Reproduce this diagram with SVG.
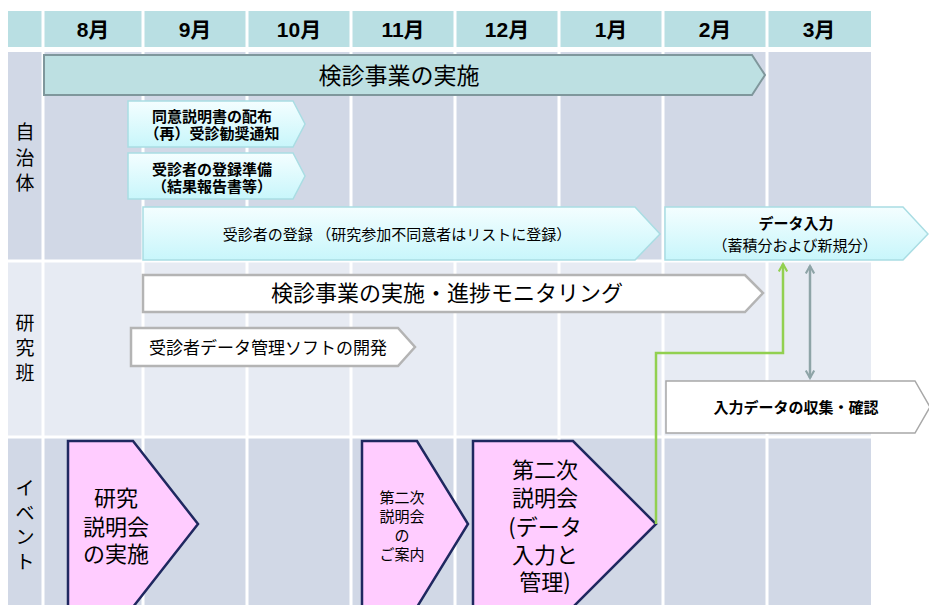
<svg xmlns="http://www.w3.org/2000/svg" width="929" height="605" viewBox="0 0 929 605">
<defs>
<style>
.jp{font-family:"Noto Sans CJK JP","Noto Sans",sans-serif;fill:#000}
.mon{font-family:"Liberation Sans","Noto Sans CJK JP",sans-serif;font-weight:bold;font-size:21px;text-anchor:middle}
.hdr{fill:#b9dfe3}
.rowA{fill:#d1d8e6}
.rowB{fill:#e7ebf3}
.grid{stroke:#ffffff;stroke-width:3}
.lab{font-size:19px;text-anchor:middle}
.cyan{fill:url(#cg);stroke:#a9dde3;stroke-width:1.5}
.wht{fill:#ffffff;stroke:#b4b4b4;stroke-width:2.5}
.pink{fill:#ffccff;stroke:#1f2860;stroke-width:2.5}
.mid{text-anchor:middle}
.b{font-weight:bold}
</style>
<linearGradient id="cg" x1="0" y1="0" x2="0" y2="1">
<stop offset="0" stop-color="#f4feff"/>
<stop offset="1" stop-color="#c8f6fb"/>
</linearGradient>
<marker id="ag" viewBox="0 0 12 12" refX="10" refY="6" markerWidth="4" markerHeight="4" orient="auto-start-reverse" markerUnits="strokeWidth">
<path d="M1,1 L10,6 L1,11" fill="none" stroke="#92d050" stroke-width="2.5"/>
</marker>
<marker id="ay" viewBox="0 0 12 12" refX="10" refY="6" markerWidth="4" markerHeight="4" orient="auto-start-reverse" markerUnits="strokeWidth">
<path d="M1,1 L10,6 L1,11" fill="none" stroke="#8ea4a7" stroke-width="2.5"/>
</marker>
</defs>

<g id="grid">
<rect class="hdr" x="8" y="11" width="863" height="36"/>
<rect class="rowA" x="8" y="52" width="863" height="209"/>
<rect class="rowB" x="8" y="261" width="863" height="176"/>
<rect class="rowA" x="8" y="437" width="863" height="168"/>
<line class="grid" x1="43" y1="0" x2="43" y2="605"/>
<line class="grid" x1="143" y1="0" x2="143" y2="605"/>
<line class="grid" x1="247" y1="0" x2="247" y2="605"/>
<line class="grid" x1="351" y1="0" x2="351" y2="605"/>
<line class="grid" x1="455" y1="0" x2="455" y2="605"/>
<line class="grid" x1="559" y1="0" x2="559" y2="605"/>
<line class="grid" x1="663" y1="0" x2="663" y2="605"/>
<line class="grid" x1="767" y1="0" x2="767" y2="605"/>
<line class="grid" x1="0" y1="261" x2="871" y2="261"/>
<line class="grid" x1="0" y1="437" x2="871" y2="437"/>
<text class="mon" x="93" y="37">8月</text>
<text class="mon" x="195" y="37">9月</text>
<text class="mon" x="299" y="37">10月</text>
<text class="mon" x="403" y="37">11月</text>
<text class="mon" x="507" y="37">12月</text>
<text class="mon" x="611" y="37">1月</text>
<text class="mon" x="715" y="37">2月</text>
<text class="mon" x="819" y="37">3月</text>
<text class="jp lab" x="25" y="139">自<tspan x="25" dy="26">治</tspan><tspan x="25" dy="25">体</tspan></text>
<text class="jp lab" x="25" y="330">研<tspan x="25" dy="25">究</tspan><tspan x="25" dy="25">班</tspan></text>
<text class="jp lab" x="25" y="495">イ<tspan x="25" dy="25">ベ</tspan><tspan x="25" dy="24">ン</tspan><tspan x="25" dy="25">ト</tspan></text>
</g>

<g id="n-kenshin">
<polygon points="44,55 752,55 765,75 752,95 44,95" fill="#bde0e2" stroke="#7f979c" stroke-width="2"/>
<text class="jp mid" x="399" y="84" font-size="23">検診事業の実施</text>
</g>

<g id="n-doui">
<polygon class="cyan" points="128,101 293,101 305,124 293,147 128,147"/>
<text class="jp mid b" x="212" y="122" font-size="15">同意説明書の配布<tspan x="212" dy="17">（再）受診勧奨通知</tspan></text>
</g>

<g id="n-junbi">
<polygon class="cyan" points="128,153 293,153 305,176 293,199 128,199"/>
<text class="jp mid b" x="212" y="175" font-size="15">受診者の登録準備<tspan x="212" dy="17">（結果報告書等）</tspan></text>
</g>

<g id="n-touroku">
<polygon class="cyan" points="143,207 635,207 660,234 635,260 143,260"/>
<text class="jp mid" x="397" y="240" font-size="15">受診者の登録 （研究参加不同意者はリストに登録）</text>
</g>

<g id="n-datainput">
<polygon class="cyan" points="665,207 903,207 928,234 903,260 665,260"/>
<text class="jp mid b" x="796" y="229" font-size="15">データ入力</text>
<text class="jp mid" x="795" y="251" font-size="15">（蓄積分および新規分）</text>
</g>

<g id="n-monitor">
<polygon class="wht" points="143,275 745,275 763,293 745,312 143,312"/>
<text class="jp mid" x="447" y="301" font-size="22">検診事業の実施・進捗モニタリング</text>
</g>

<g id="n-soft">
<polygon class="wht" points="131,328 398,328 415,347 398,366 131,366"/>
<text class="jp mid" x="268" y="354" font-size="17">受診者データ管理ソフトの開発</text>
</g>

<g id="n-collect">
<polygon points="666,381 915,381 930,407 915,433 666,433" fill="#ffffff" stroke="#a8a8a8" stroke-width="1.5"/>
<text class="jp mid b" x="796" y="413" font-size="15">入力データの収集・確認</text>
</g>

<g id="n-ev1">
<polygon class="pink" points="68,441 133,441 198,524 133,607 68,607"/>
<text class="jp mid" x="116" y="506" font-size="22">研究<tspan x="116" dy="29">説明会</tspan><tspan x="116" dy="27">の実施</tspan></text>
</g>

<g id="n-ev2">
<polygon class="pink" points="362,441 417,441 468,524 417,607 362,607"/>
<text class="jp mid" x="402" y="503" font-size="15">第二次<tspan x="402" dy="19">説明会</tspan><tspan x="402" dy="19">の</tspan><tspan x="402" dy="19">ご案内</tspan></text>
</g>

<g id="n-ev3">
<polygon class="pink" points="473,441 573,441 656,524 573,607 473,607"/>
<text class="jp mid" x="545" y="478" font-size="22">第二次<tspan x="545" dy="28">説明会</tspan><tspan x="545" dy="29">(データ</tspan><tspan x="545" dy="28">入力と</tspan><tspan x="545" dy="27">管理)</tspan></text>
</g>

<g id="connectors" fill="none">
<polyline points="656,524 656,353 783,353 783,264" stroke="#92d050" stroke-width="2.5" marker-end="url(#ag)"/>
<line x1="810" y1="266" x2="810" y2="378" stroke="#8ea4a7" stroke-width="2.5" marker-start="url(#ay)" marker-end="url(#ay)"/>
</g>
</svg>
